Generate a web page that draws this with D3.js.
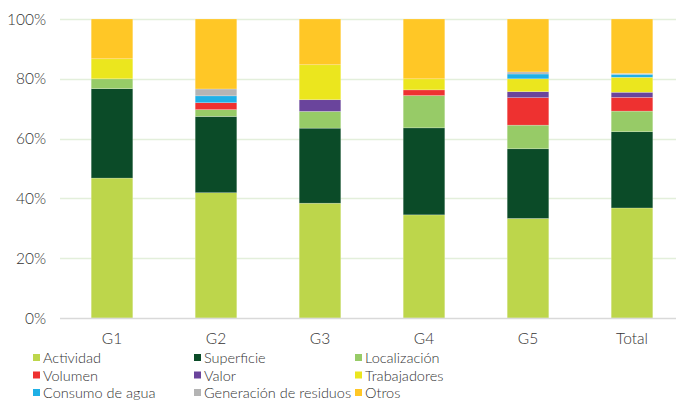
<!DOCTYPE html>
<html>
<head>
<meta charset="utf-8">
<script src="https://cdn.jsdelivr.net/npm/d3@7"></script>
<style>
  body { margin: 0; background: #fff; }
  text { font-family: Lato, "Open Sans", sans-serif; font-weight: 300; fill: #333333; }
</style>
</head>
<body>
<div id="chart"></div>
<script>
// Chart size
var width  = 676;
var height = 403;

// Data (percent of each group)
var groups = ["G1", "G2", "G3", "G4", "G5", "Total"];
var seriesNames = ["Actividad", "Superficie", "Localización", "Volumen", "Valor",
                   "Trabajadores", "Consumo de agua", "Generación de residuos", "Otros"];
var seriesColors = ["#bdd64b", "#0b4b28", "#97cb67", "#ee3130", "#6a449c",
                    "#ebe61e", "#1fb0e6", "#b4b4b4", "#ffc726"];
var actividad     = [46.8, 41.9, 38.4, 34.5, 33.3, 36.8];
var superficie    = [29.9, 25.5, 25.1, 29.1, 23.3, 25.5];
var localizacion  = [3.3, 2.3, 5.6, 10.8, 7.9, 6.9];
var volumen       = [0, 2.3, 0, 1.9, 9.2, 4.6];
var valor         = [0, 0, 3.9, 0, 2.0, 1.7];
var trabajadores  = [6.7, 0, 11.7, 3.7, 4.3, 5.0];
var consumoAgua   = [0, 2.3, 0, 0, 1.6, 1.0];
var residuos      = [0, 2.3, 0, 0, 0.7, 0.3];
var otros         = [13.3, 23.4, 15.3, 20.0, 17.7, 18.2];
var yTicks = [0, 20, 40, 60, 80, 100];

var seriesValues = [actividad, superficie, localizacion, volumen, valor,
                    trabajadores, consumoAgua, residuos, otros];

// Build table rows for d3.stack
var rows = groups.map(function(g, i) {
    var r = { group: g };
    seriesNames.forEach(function(s, j) { r[s] = seriesValues[j][i]; });
    return r;
});
var stacked = d3.stack().keys(seriesNames)(rows);

var margin = { top: 19, left: 60, bottom: 85 };

var x = d3.scaleBand()
    .domain(groups)
    .range([margin.left, margin.left + 624])
    .paddingInner(0.6)
    .paddingOuter(0.3);

var y = d3.scaleLinear()
    .domain([0, 100])
    .range([height - margin.bottom, margin.top]);

var svg = d3.select("#chart").append("svg")
    .attr("width", width)
    .attr("height", height);

// Gridlines
svg.append("g")
    .selectAll("line")
    .data(yTicks.filter(d => d > 0))
    .enter()
    .append("line")
    .attr("x1", margin.left)
    .attr("x2", margin.left + 624)
    .attr("y1", d => Math.round(y(d)) + 0.5)
    .attr("y2", d => Math.round(y(d)) + 0.5)
    .attr("stroke", "#e3efdb")
    .attr("stroke-width", 1.5);

// Y tick labels
svg.append("g")
    .selectAll("text")
    .data(yTicks)
    .enter()
    .append("text")
    .attr("x", 46)
    .attr("y", d => y(d) + 5.5)
    .attr("text-anchor", "end")
    .attr("font-size", "15.5px")
    .text(d => d + "%");

// Bars
svg.append("g")
    .selectAll("g")
    .data(stacked)
    .enter()
    .append("g")
    .attr("fill", (d, i) => seriesColors[i])
    .selectAll("rect")
    .data(d => d)
    .enter()
    .append("rect")
    .attr("x", d => x(d.data.group))
    .attr("width", x.bandwidth())
    .attr("y", d => y(d[1]))
    .attr("height", d => y(d[0]) - y(d[1]))
    .attr("stroke", "#ffffff")
    .attr("stroke-opacity", 0.35)
    .attr("stroke-width", 0.6);

// Baseline
svg.append("line")
    .attr("x1", margin.left)
    .attr("x2", margin.left + 624)
    .attr("y1", y(0) + 0.5)
    .attr("y2", y(0) + 0.5)
    .attr("stroke", "#d9d9d9")
    .attr("stroke-width", 1.5);

// Category labels
svg.append("g")
    .selectAll("text")
    .data(groups)
    .enter()
    .append("text")
    .attr("x", d => x(d) + x.bandwidth() / 2)
    .attr("y", 343.5)
    .attr("text-anchor", "middle")
    .attr("font-size", "15.5px")
    .text(d => d);

// Legend: 3 columns, 3 rows
var legendCols = [33, 194, 355];
var legendRows = [357.5, 375, 392.5];
var legend = svg.append("g")
    .selectAll("g")
    .data(seriesNames)
    .enter()
    .append("g")
    .attr("transform", (d, i) => "translate(" + legendCols[i % 3] + "," + legendRows[Math.floor(i / 3)] + ")");

legend.append("rect")
    .attr("x", 0)
    .attr("y", -3.5)
    .attr("width", 7)
    .attr("height", 7)
    .attr("fill", (d, i) => seriesColors[i]);

legend.append("text")
    .attr("x", 10)
    .attr("y", 5.5)
    .attr("font-size", "14.5px")
    .text(d => d);
</script>
</body>
</html>
